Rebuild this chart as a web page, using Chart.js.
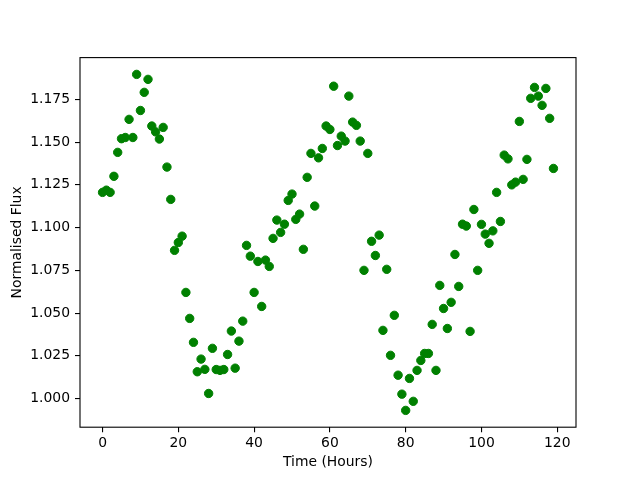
<!DOCTYPE html>
<html>
<head>
<meta charset="utf-8">
<script src="https://cdn.jsdelivr.net/npm/chart.js@4/dist/chart.umd.min.js"></script>
<style>
html,body{margin:0;padding:0;background:#fff;}
#wrap{width:640px;height:480px;}
</style>
</head>
<body>
<div id="wrap"><canvas id="c" width="640" height="480"></canvas></div>
<script>
const hours = [0,1,2,3,4,5,6,7,8,9,10,11,12,13,14,15,16,17,18,19,
20,21,22,23,24,25,26,27,28,29,30,31,32,33,34,35,36,37,38,39,
40,41,42,43,44,45,46,47,48,49,50,51,52,53,54,55,56,57,58,59,
60,61,62,63,64,65,66,67,68,69,70,71,72,73,74,75,76,77,78,79,
80,81,82,83,84,85,86,87,88,89,90,91,92,93,94,95,96,97,98,99,
100,101,102,103,104,105,106,107,108,109,110,111,112,113,114,115,116,117,118,119];

const flux = [1.1206,1.1219,1.1206,1.1300,1.1440,1.1520,1.1527,1.1633,1.1527,1.1896,
1.1685,1.1791,1.1867,1.1594,1.1560,1.1518,1.1586,1.1354,1.1165,1.0867,
1.0913,1.0950,1.0621,1.0469,1.0329,1.0157,1.0231,1.0171,1.0030,1.0294,
1.0170,1.0165,1.0170,1.0258,1.0395,1.0178,1.0336,1.0453,1.0896,1.0833,
1.0621,1.0802,1.0539,1.0810,1.0773,1.0937,1.1044,1.0972,1.1020,1.1159,
1.1196,1.1048,1.1079,1.0873,1.1294,1.1434,1.1126,1.1408,1.1463,1.1594,
1.1574,1.1827,1.1480,1.1535,1.1506,1.1769,1.1617,1.1598,1.1506,1.0750,
1.1434,1.0920,1.0837,1.0956,1.0399,1.0756,1.0253,1.0487,1.0137,1.0026,
0.9931,1.0118,0.9984,1.0165,1.0223,1.0264,1.0264,1.0434,1.0165,1.0662,
1.0527,1.0410,1.0563,1.0843,1.0656,1.1020,1.1009,1.0393,1.1106,1.0750,
1.1019,1.0962,1.0908,1.0981,1.1206,1.1036,1.1424,1.1402,1.1250,1.1266,
1.1621,1.1282,1.1399,1.1756,1.1820,1.1769,1.1715,1.1814,1.1639,1.1346];

const xTicks = [0,20,40,60,80,100,120];
const yTicks = [1.000,1.025,1.050,1.075,1.100,1.125,1.150,1.175];
const xLabel = 'Time (Hours)';
const yLabel = 'Normalised Flux';

// matplotlib-style 5% margins
const xMinD = Math.min(...hours), xMaxD = Math.max(...hours);
const yMinD = Math.min(...flux), yMaxD = Math.max(...flux);
const xm = (xMaxD - xMinD) * 0.05, ym = (yMaxD - yMinD) * 0.05;

const points = hours.map((h, i) => ({x: h, y: flux[i]}));

const FONT = {family: '"DejaVu Sans", sans-serif', size: 13.9};

const boxPlugin = {
  id: 'box',
  afterDatasetsDraw(chart) {
    const a = chart.chartArea, ctx = chart.ctx;
    ctx.save();
    ctx.strokeStyle = '#000';
    ctx.lineWidth = 1.1;
    ctx.strokeRect(a.left, a.top, a.right - a.left, a.bottom - a.top);
    ctx.restore();
  }
};

new Chart(document.getElementById('c'), {
  type: 'scatter',
  data: {
    datasets: [{
      data: points,
      backgroundColor: '#008000',
      borderColor: '#008000',
      borderWidth: 1,
      pointRadius: 4.2,
      pointHoverRadius: 4.2
    }]
  },
  options: {
    responsive: false,
    animation: false,
    devicePixelRatio: 1,
    layout: {padding: {top: 57.6, right: 64, left: 0, bottom: 0}},
    plugins: {legend: {display: false}, tooltip: {enabled: false}},
    scales: {
      x: {
        type: 'linear',
        min: xMinD - xm,
        max: xMaxD + xm,
        afterBuildTicks: s => { s.ticks = xTicks.map(v => ({value: v})); },
        afterFit: s => { s.height = 52.8; },
        border: {display: false},
        grid: {display: true, drawOnChartArea: false, drawTicks: true, tickLength: 5, color: '#000', lineWidth: 1.1},
        ticks: {color: '#000', font: FONT, padding: 3, maxRotation: 0, callback: v => String(v)},
        title: {display: true, text: xLabel, color: '#000', font: FONT, padding: {top: 0, bottom: 9}}
      },
      y: {
        type: 'linear',
        min: yMinD - ym,
        max: yMaxD + ym,
        afterBuildTicks: s => { s.ticks = yTicks.map(v => ({value: v})); },
        afterFit: s => { s.width = 80; },
        border: {display: false},
        grid: {display: true, drawOnChartArea: false, drawTicks: true, tickLength: 5, color: '#000', lineWidth: 1.1},
        ticks: {color: '#000', font: FONT, padding: 5, callback: v => Number(v).toFixed(3)},
        title: {display: true, text: yLabel, color: '#000', font: FONT, padding: {top: 9, bottom: 0}}
      }
    }
  },
  plugins: [boxPlugin]
});
</script>
</body>
</html>
